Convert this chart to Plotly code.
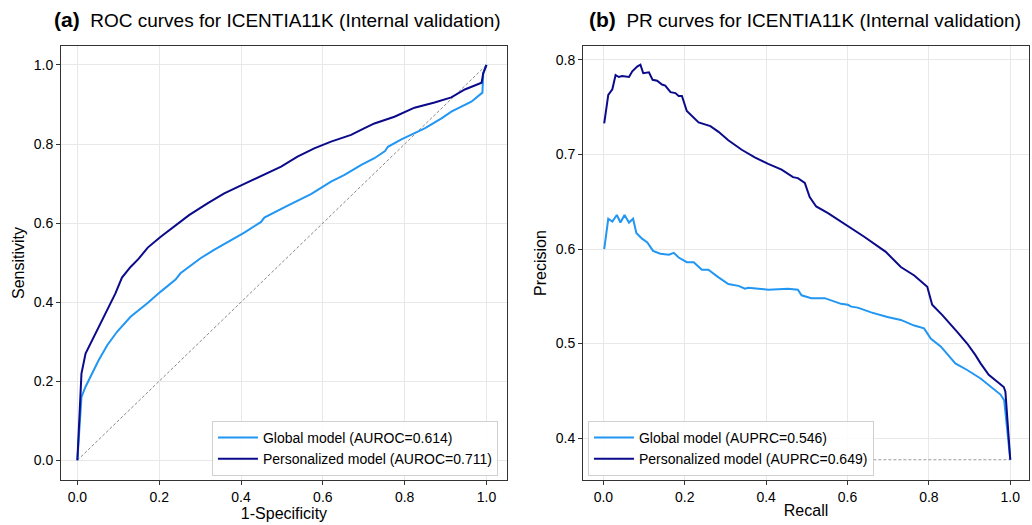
import plotly.graph_objects as go
from plotly.subplots import make_subplots

# ROC data
roc_pers_fpr = [0, 0.01, 0.02, 0.04, 0.06, 0.08, 0.093, 0.109, 0.13, 0.15, 0.172, 0.203, 0.236, 0.273, 0.318,
                0.359, 0.408, 0.457, 0.498, 0.538, 0.579, 0.62, 0.669, 0.702, 0.726, 0.775, 0.824, 0.873,
                0.914, 0.947, 0.988, 0.992, 1.0]
roc_pers_tpr = [0, 0.219, 0.27, 0.312, 0.354, 0.392, 0.422, 0.462, 0.489, 0.51, 0.538, 0.565, 0.59, 0.62, 0.65,
                0.675, 0.699, 0.722, 0.743, 0.768, 0.789, 0.806, 0.823, 0.84, 0.852, 0.869, 0.892, 0.905,
                0.918, 0.938, 0.955, 0.979, 1.0]
roc_glob_fpr = [0, 0.01, 0.02, 0.04, 0.052, 0.073, 0.097, 0.13, 0.171, 0.203, 0.24, 0.252, 0.301, 0.334, 0.371,
                0.408, 0.449, 0.457, 0.514, 0.571, 0.62, 0.653, 0.694, 0.726, 0.752, 0.759, 0.792, 0.817,
                0.85, 0.89, 0.914, 0.963, 0.99, 0.992, 1.0]
roc_glob_tpr = [0, 0.16, 0.186, 0.228, 0.253, 0.291, 0.325, 0.363, 0.397, 0.426, 0.457, 0.473, 0.511, 0.532, 0.553,
                0.576, 0.603, 0.614, 0.644, 0.673, 0.705, 0.722, 0.747, 0.764, 0.782, 0.793, 0.812, 0.824,
                0.84, 0.865, 0.882, 0.907, 0.93, 0.979, 1.0]

# PR data
pr_pers_rec = [0.002, 0.012, 0.022, 0.03, 0.038, 0.046, 0.063, 0.071, 0.083, 0.091, 0.098, 0.112, 0.121, 0.132,
               0.144, 0.152, 0.165, 0.177, 0.185, 0.193, 0.205, 0.234, 0.263, 0.283, 0.307, 0.34, 0.372, 0.405,
               0.438, 0.466, 0.478, 0.495, 0.507, 0.523, 0.552, 0.592, 0.641, 0.694, 0.731, 0.764, 0.796,
               0.808, 0.833, 0.87, 0.894, 0.914, 0.927, 0.947, 0.971, 0.984, 0.988, 1.0]
pr_pers_prec = [0.733, 0.763, 0.769, 0.784, 0.782, 0.783, 0.782, 0.788, 0.793, 0.795, 0.786, 0.787, 0.779, 0.778,
                0.774, 0.773, 0.766, 0.765, 0.762, 0.762, 0.746, 0.734, 0.730, 0.724, 0.715, 0.705, 0.697, 0.69,
                0.684, 0.676, 0.675, 0.670, 0.655, 0.645, 0.638, 0.627, 0.613, 0.597, 0.581, 0.572, 0.560,
                0.541, 0.530, 0.512, 0.5, 0.488, 0.479, 0.467, 0.458, 0.454, 0.449, 0.377]
pr_glob_rec = [0.002, 0.012, 0.022, 0.033, 0.042, 0.052, 0.063, 0.073, 0.081, 0.095, 0.108, 0.122, 0.14, 0.161,
               0.173, 0.185, 0.205, 0.222, 0.242, 0.258, 0.283, 0.307, 0.332, 0.348, 0.356, 0.405, 0.454, 0.478,
               0.487, 0.511, 0.544, 0.584, 0.601, 0.609, 0.625, 0.658, 0.698, 0.731, 0.764, 0.788, 0.805,
               0.829, 0.865, 0.894, 0.927, 0.955, 0.976, 0.985, 1.0]
pr_glob_prec = [0.6, 0.632, 0.629, 0.636, 0.628, 0.636, 0.628, 0.632, 0.617, 0.611, 0.607, 0.598, 0.595, 0.594,
                0.596, 0.591, 0.586, 0.586, 0.578, 0.578, 0.570, 0.563, 0.561, 0.558, 0.559, 0.557, 0.558, 0.557,
                0.551, 0.548, 0.548, 0.542, 0.541, 0.539, 0.538, 0.533, 0.528, 0.525, 0.519, 0.516, 0.505,
                0.497, 0.479, 0.472, 0.463, 0.453, 0.446, 0.440, 0.377]
pr_baseline = 0.377

names_roc = ["Global model (AUROC=0.614)", "Personalized model (AUROC=0.711)"]
names_pr = ["Global model (AUPRC=0.546)", "Personalized model (AUPRC=0.649)"]
titles = ["<b><span style='font-size:21px'>(a)</span></b>  ROC curves for ICENTIA11K (Internal validation)",
          "<b><span style='font-size:21px'>(b)</span></b>  PR curves for ICENTIA11K (Internal validation)"]

C_GLOB = "#2196f3"
C_PERS = "#0a0a8a"
FONT = "Liberation Sans, Arial, Helvetica, sans-serif"

fig = make_subplots(rows=1, cols=2, horizontal_spacing=0.0786)

# ROC
fig.add_trace(go.Scatter(x=[0, 1], y=[0, 1], mode="lines", line=dict(color="#888888", width=1, dash="3px,2px"),
                         showlegend=False), row=1, col=1)
fig.add_trace(go.Scatter(x=roc_glob_fpr, y=roc_glob_tpr, mode="lines", name=names_roc[0],
                         line=dict(color=C_GLOB, width=2), legend="legend"), row=1, col=1)
fig.add_trace(go.Scatter(x=roc_pers_fpr, y=roc_pers_tpr, mode="lines", name=names_roc[1],
                         line=dict(color=C_PERS, width=2), legend="legend"), row=1, col=1)

# PR
fig.add_trace(go.Scatter(x=[0, 1], y=[pr_baseline, pr_baseline], mode="lines",
                         line=dict(color="#999999", width=1, dash="3px,2px"), showlegend=False), row=1, col=2)
fig.add_trace(go.Scatter(x=pr_glob_rec, y=pr_glob_prec, mode="lines", name=names_pr[0],
                         line=dict(color=C_GLOB, width=2), legend="legend2"), row=1, col=2)
fig.add_trace(go.Scatter(x=pr_pers_rec, y=pr_pers_prec, mode="lines", name=names_pr[1],
                         line=dict(color=C_PERS, width=2), legend="legend2"), row=1, col=2)

axis_common = dict(showline=True, mirror=True, linecolor="#333333", linewidth=1, showgrid=True,
                   gridcolor="#e8e8e8", gridwidth=1, ticks="outside", ticklen=4, tickcolor="#333333",
                   zeroline=False, tickfont=dict(size=14, color="black"),
                   title_font=dict(size=16, color="black"))

fig.update_xaxes(**axis_common)
fig.update_yaxes(**axis_common)
fig.update_xaxes(range=[-0.04, 1.05], tickvals=[0, 0.2, 0.4, 0.6, 0.8, 1.0], tickformat=".1f",
                 title_text="1-Specificity", title_standoff=1, row=1, col=1)
fig.update_yaxes(range=[-0.05, 1.048], tickvals=[0, 0.2, 0.4, 0.6, 0.8, 1.0], tickformat=".1f",
                 title_text="Sensitivity", title_standoff=5, row=1, col=1)
fig.update_xaxes(range=[-0.05, 1.046], tickvals=[0, 0.2, 0.4, 0.6, 0.8, 1.0], tickformat=".1f",
                 title_text="Recall", title_standoff=1, row=1, col=2)
fig.update_yaxes(range=[0.3556, 0.8148], tickvals=[0.4, 0.5, 0.6, 0.7, 0.8], tickformat=".1f",
                 title_text="Precision", title_standoff=5, row=1, col=2)

fig.update_layout(
    width=1032, height=525,
    margin=dict(l=61, r=3, t=46, b=45),
    paper_bgcolor="white", plot_bgcolor="white",
    font=dict(family=FONT, color="black"),
    legend=dict(x=0.4514, y=0.0092, xanchor="right", yanchor="bottom", bgcolor="rgba(255,255,255,0.85)",
                bordercolor="#d0d0d0", borderwidth=1, font=dict(size=14), tracegroupgap=0,
                itemwidth=40),
    legend2=dict(x=0.5444, y=0.0092, xanchor="left", yanchor="bottom", bgcolor="rgba(255,255,255,0.85)",
                 bordercolor="#d0d0d0", borderwidth=1, font=dict(size=14), tracegroupgap=0,
                 itemwidth=40),
    annotations=[
        dict(text=titles[0], x=0.2237, y=1.06, xref="paper", yref="paper", xanchor="center", yanchor="middle",
             showarrow=False, font=dict(size=19, color="black")),
        dict(text=titles[1], x=0.7686, y=1.06, xref="paper", yref="paper", xanchor="center", yanchor="middle",
             showarrow=False, font=dict(size=19, color="black")),
    ],
)

fig.write_html("out.html")
